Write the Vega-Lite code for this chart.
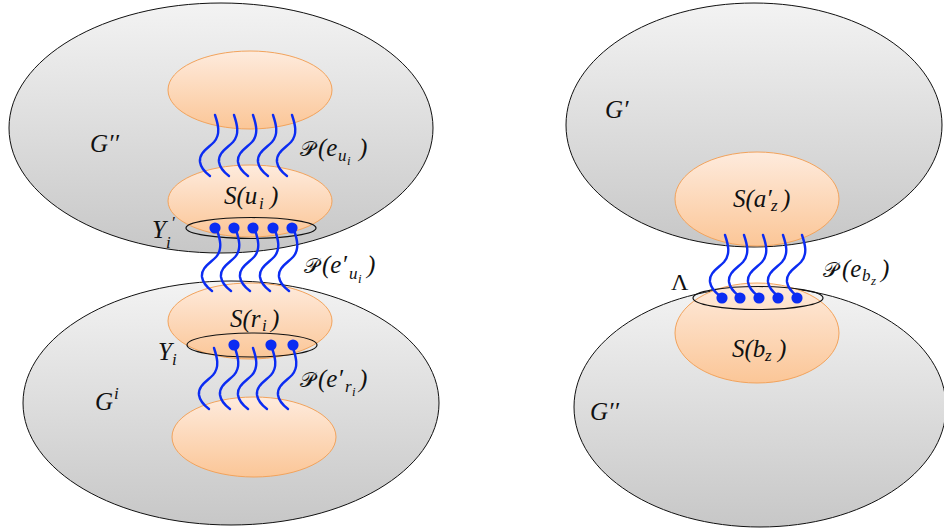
{
  "$schema": "https://vega.github.io/schema/vega-lite/v6.json",
  "width": 944,
  "height": 529,
  "autosize": "none",
  "padding": 0,
  "background": "white",
  "config": {"view": {"stroke": null}},
  "datasets": {
    "regions": [
      {"x": 221, "y": 128, "kind": "gTL", "group": "big"},
      {"x": 231, "y": 403, "kind": "gBL", "group": "big"},
      {"x": 754, "y": 125, "kind": "gTR", "group": "big"},
      {"x": 760, "y": 407, "kind": "gBR", "group": "big"},
      {"x": 250, "y": 90, "kind": "oTop", "group": "orange"},
      {"x": 250, "y": 201, "kind": "oU", "group": "orange"},
      {"x": 250, "y": 321, "kind": "oR", "group": "orange"},
      {"x": 254, "y": 437, "kind": "oBot", "group": "orange"},
      {"x": 757, "y": 199, "kind": "oA", "group": "orange"},
      {"x": 757, "y": 333, "kind": "oB", "group": "orange"},
      {"x": 251, "y": 228, "kind": "rU", "group": "ring"},
      {"x": 252, "y": 345, "kind": "rR", "group": "ring"},
      {"x": 758, "y": 298, "kind": "rL", "group": "ring"}
    ],
    "waves": [
      {"x": 215, "y": 115, "bundle": "e_u"}, {"x": 234, "y": 115, "bundle": "e_u"}, {"x": 253, "y": 115, "bundle": "e_u"}, {"x": 273, "y": 115, "bundle": "e_u"}, {"x": 292, "y": 115, "bundle": "e_u"},
      {"x": 217, "y": 230, "bundle": "e'_u"}, {"x": 236, "y": 230, "bundle": "e'_u"}, {"x": 255, "y": 230, "bundle": "e'_u"}, {"x": 275, "y": 230, "bundle": "e'_u"}, {"x": 294, "y": 230, "bundle": "e'_u"},
      {"x": 214, "y": 348, "bundle": "e'_r"}, {"x": 235, "y": 348, "bundle": "e'_r"}, {"x": 253, "y": 348, "bundle": "e'_r"}, {"x": 272, "y": 348, "bundle": "e'_r"}, {"x": 293, "y": 348, "bundle": "e'_r"},
      {"x": 725, "y": 235, "bundle": "e_b"}, {"x": 744, "y": 235, "bundle": "e_b"}, {"x": 763, "y": 235, "bundle": "e_b"}, {"x": 783, "y": 235, "bundle": "e_b"}, {"x": 802, "y": 235, "bundle": "e_b"}
    ],
    "dots": [
      {"x": 215, "y": 228, "set": "Y'_i"}, {"x": 234, "y": 228, "set": "Y'_i"}, {"x": 253, "y": 228, "set": "Y'_i"}, {"x": 273, "y": 228, "set": "Y'_i"}, {"x": 292, "y": 228, "set": "Y'_i"},
      {"x": 234, "y": 345, "set": "Y_i"}, {"x": 271, "y": 345, "set": "Y_i"}, {"x": 293, "y": 345, "set": "Y_i"},
      {"x": 722, "y": 298, "set": "Lambda"}, {"x": 740, "y": 298, "set": "Lambda"}, {"x": 759, "y": 298, "set": "Lambda"}, {"x": 778, "y": 298, "set": "Lambda"}, {"x": 797, "y": 298, "set": "Lambda"}
    ],
    "labels": [
      {"x": 300, "y": 156, "text": "𝒫", "role": "script"},
      {"x": 318, "y": 156, "text": "(e", "role": "main"},
      {"x": 338, "y": 161, "text": "u", "role": "sub"},
      {"x": 347, "y": 165, "text": "i", "role": "subsub"},
      {"x": 359, "y": 156, "text": ")", "role": "main"},

      {"x": 304, "y": 273, "text": "𝒫", "role": "script"},
      {"x": 322, "y": 273, "text": "(e′", "role": "main"},
      {"x": 349, "y": 279, "text": "u", "role": "sub"},
      {"x": 358, "y": 283, "text": "i", "role": "subsub"},
      {"x": 367, "y": 273, "text": ")", "role": "main"},

      {"x": 300, "y": 387, "text": "𝒫", "role": "script"},
      {"x": 318, "y": 387, "text": "(e′", "role": "main"},
      {"x": 345, "y": 392, "text": "r", "role": "sub"},
      {"x": 352, "y": 396, "text": "i", "role": "subsub"},
      {"x": 359, "y": 387, "text": ")", "role": "main"},

      {"x": 823, "y": 277, "text": "𝒫", "role": "script"},
      {"x": 842, "y": 277, "text": "(e", "role": "main"},
      {"x": 862, "y": 281, "text": "b", "role": "sub"},
      {"x": 871, "y": 285, "text": "z", "role": "subsub"},
      {"x": 881, "y": 277, "text": ")", "role": "main"},

      {"x": 224, "y": 204, "text": "S(u", "role": "main"},
      {"x": 259, "y": 209, "text": "i", "role": "sub"},
      {"x": 270, "y": 204, "text": ")", "role": "main"},

      {"x": 230, "y": 327, "text": "S(r", "role": "main"},
      {"x": 262, "y": 331, "text": "i", "role": "sub"},
      {"x": 271, "y": 327, "text": ")", "role": "main"},

      {"x": 733, "y": 207, "text": "S(a′", "role": "main"},
      {"x": 771, "y": 211, "text": "z", "role": "sub"},
      {"x": 782, "y": 207, "text": ")", "role": "main"},

      {"x": 732, "y": 357, "text": "S(b", "role": "main"},
      {"x": 765, "y": 361, "text": "z", "role": "sub"},
      {"x": 778, "y": 357, "text": ")", "role": "main"},

      {"x": 90, "y": 152, "text": "G′′", "role": "main"},
      {"x": 95, "y": 410, "text": "G", "role": "main"},
      {"x": 114, "y": 399, "text": "i", "role": "sub"},
      {"x": 605, "y": 118, "text": "G′", "role": "main"},
      {"x": 590, "y": 420, "text": "G′′", "role": "main"},

      {"x": 152, "y": 238, "text": "Y", "role": "main"},
      {"x": 166, "y": 248, "text": "i", "role": "sub"},
      {"x": 171, "y": 228, "text": "′", "role": "sub"},
      {"x": 158, "y": 360, "text": "Y", "role": "main"},
      {"x": 172, "y": 365, "text": "i", "role": "sub"},
      {"x": 671, "y": 290, "text": "Λ", "role": "upright"}
    ]
  },
  "layer": [
    {
      "data": {"name": "regions"},
      "transform": [{"filter": "datum.group === 'big'"}],
      "mark": {
        "type": "point", "filled": true, "size": 4, "opacity": 1,
        "fill": {"gradient": "linear", "x1": 0, "y1": 0, "x2": 0, "y2": 1,
                 "stops": [{"offset": 0, "color": "#f3f3f3"}, {"offset": 1, "color": "#c7c7c7"}]},
        "stroke": "#111111", "strokeWidth": 1
      },
      "encoding": {
        "x": {"field": "x", "type": "quantitative", "scale": {"domain": [0, 944], "zero": false, "nice": false}, "axis": null},
        "y": {"field": "y", "type": "quantitative", "scale": {"domain": [0, 529], "zero": false, "nice": false, "reverse": true}, "axis": null},
        "shape": {
          "field": "kind", "type": "nominal", "legend": null,
          "scale": {
            "domain": ["gTL", "gBL", "gTR", "gBR", "oTop", "oU", "oR", "oBot", "oA", "oB", "rU", "rR", "rL"],
            "range": [
              "M-212,0A212,125 0 1,0 212,0A212,125 0 1,0 -212,0Z",
              "M-208,0A208,122 0 1,0 208,0A208,122 0 1,0 -208,0Z",
              "M-188,0A188,122 0 1,0 188,0A188,122 0 1,0 -188,0Z",
              "M-186,0A186,120 0 1,0 186,0A186,120 0 1,0 -186,0Z",
              "M-82,0A82,39 0 1,0 82,0A82,39 0 1,0 -82,0Z",
              "M-82,0A82,36 0 1,0 82,0A82,36 0 1,0 -82,0Z",
              "M-82,0A82,38 0 1,0 82,0A82,38 0 1,0 -82,0Z",
              "M-82,0A82,40 0 1,0 82,0A82,40 0 1,0 -82,0Z",
              "M-82,0A82,47 0 1,0 82,0A82,47 0 1,0 -82,0Z",
              "M-82,0A82,50 0 1,0 82,0A82,50 0 1,0 -82,0Z",
              "M-65,0A65,10.5 0 1,0 65,0A65,10.5 0 1,0 -65,0Z",
              "M-65,0A65,12 0 1,0 65,0A65,12 0 1,0 -65,0Z",
              "M-65,0A65,11.5 0 1,0 65,0A65,11.5 0 1,0 -65,0Z"
            ]
          }
        }
      }
    },
    {
      "data": {"name": "regions"},
      "transform": [{"filter": "datum.group === 'orange'"}],
      "mark": {
        "type": "point", "filled": true, "size": 4, "opacity": 1,
        "fill": {"gradient": "linear", "x1": 0, "y1": 0, "x2": 0, "y2": 1,
                 "stops": [{"offset": 0, "color": "#feebdd"}, {"offset": 1, "color": "#fbc697"}]},
        "stroke": "#f2a35c", "strokeWidth": 1
      },
      "encoding": {
        "x": {"field": "x", "type": "quantitative"},
        "y": {"field": "y", "type": "quantitative"},
        "shape": {"field": "kind", "type": "nominal", "legend": null}
      }
    },
    {
      "data": {"name": "regions"},
      "transform": [{"filter": "datum.group === 'ring'"}],
      "mark": {"type": "point", "filled": false, "size": 4, "opacity": 1, "stroke": "#111111", "strokeWidth": 1.2, "fill": "transparent"},
      "encoding": {
        "x": {"field": "x", "type": "quantitative"},
        "y": {"field": "y", "type": "quantitative"},
        "shape": {"field": "kind", "type": "nominal", "legend": null}
      }
    },
    {
      "data": {"name": "waves"},
      "mark": {
        "type": "point", "filled": false, "size": 4, "opacity": 1,
        "shape": "M0,0C3,9 6,19 -1,27C-8,34 -16,38 -15,47C-14,54 -9,58 -5,61",
        "stroke": "#0b2cf2", "strokeWidth": 2.4, "strokeCap": "round", "fill": "transparent"
      },
      "encoding": {
        "x": {"field": "x", "type": "quantitative"},
        "y": {"field": "y", "type": "quantitative"}
      }
    },
    {
      "data": {"name": "dots"},
      "mark": {"type": "point", "shape": "circle", "filled": true, "size": 125, "opacity": 1, "fill": "#0b2cf2", "strokeWidth": 0},
      "encoding": {
        "x": {"field": "x", "type": "quantitative"},
        "y": {"field": "y", "type": "quantitative"}
      }
    },
    {
      "data": {"name": "labels"},
      "transform": [{"filter": "datum.role === 'main'"}],
      "mark": {"type": "text", "font": "Liberation Serif", "fontStyle": "italic", "fontSize": 25, "align": "left", "baseline": "alphabetic", "color": "#111111"},
      "encoding": {
        "x": {"field": "x", "type": "quantitative"},
        "y": {"field": "y", "type": "quantitative"},
        "text": {"field": "text"}
      }
    },
    {
      "data": {"name": "labels"},
      "transform": [{"filter": "datum.role === 'upright'"}],
      "mark": {"type": "text", "font": "Liberation Serif", "fontSize": 24, "align": "left", "baseline": "alphabetic", "color": "#111111"},
      "encoding": {
        "x": {"field": "x", "type": "quantitative"},
        "y": {"field": "y", "type": "quantitative"},
        "text": {"field": "text"}
      }
    },
    {
      "data": {"name": "labels"},
      "transform": [{"filter": "datum.role === 'script'"}],
      "mark": {"type": "text", "font": "DejaVu Serif, DejaVu Sans, Noto Sans", "fontSize": 21, "align": "left", "baseline": "alphabetic", "color": "#111111"},
      "encoding": {
        "x": {"field": "x", "type": "quantitative"},
        "y": {"field": "y", "type": "quantitative"},
        "text": {"field": "text"}
      }
    },
    {
      "data": {"name": "labels"},
      "transform": [{"filter": "datum.role === 'sub'"}],
      "mark": {"type": "text", "font": "Liberation Serif", "fontStyle": "italic", "fontSize": 17, "align": "left", "baseline": "alphabetic", "color": "#111111"},
      "encoding": {
        "x": {"field": "x", "type": "quantitative"},
        "y": {"field": "y", "type": "quantitative"},
        "text": {"field": "text"}
      }
    },
    {
      "data": {"name": "labels"},
      "transform": [{"filter": "datum.role === 'subsub'"}],
      "mark": {"type": "text", "font": "Liberation Serif", "fontStyle": "italic", "fontSize": 13, "align": "left", "baseline": "alphabetic", "color": "#111111"},
      "encoding": {
        "x": {"field": "x", "type": "quantitative"},
        "y": {"field": "y", "type": "quantitative"},
        "text": {"field": "text"}
      }
    }
  ]
}
